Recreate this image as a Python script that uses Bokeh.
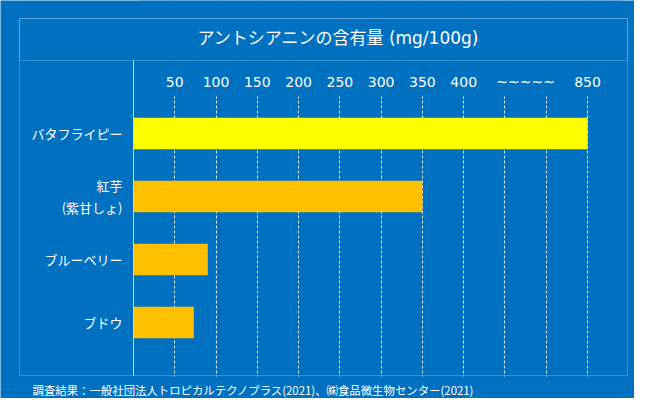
from bokeh.plotting import figure
from bokeh.models import (Range1d, LinearAxis, FixedTicker, Grid, Label,
                          BoxAnnotation, ColumnDataSource)
from bokeh.embed import file_html
from bokeh.resources import INLINE

# ---- data ----
categories = ["バタフライピー", "紅芋\n(紫甘しょ)", "ブルーベリー", "ブドウ"]
values = [850, 350, 90, 73]          # mg/100g
bar_colors = ["#FFFF00", "#FFC000", "#FFC000", "#FFC000"]
tick_values = [50, 100, 150, 200, 250, 300, 350, 400, 475, 550]
tick_labels = ["50", "100", "150", "200", "250", "300", "350", "400", "~~~~~", "850"]
grid_values = [50, 100, 150, 200, 250, 300, 350, 400, 450, 500, 550]
title_text = "アントシアニンの含有量 (mg/100g)"
footer_text = "調査結果：一般社団法人トロピカルテクノプラス(2021)、㈱食品微生物センター(2021)"

BREAK_FROM, BREAK_TO = 850, 550      # broken axis: 850 is drawn where 550 would be


def shown(v):
    return v - (BREAK_FROM - BREAK_TO) if v > 400 else v


BG = "#0070C0"
LINE = "#BDD7EE"
JP = "Noto Sans CJK JP"
MIX = "DejaVu Sans, Noto Sans CJK JP"
NUM = "DejaVu Sans"

n = len(categories)
ypos = [n - i for i in range(n)]     # top to bottom

W, H = 634, 398
PX_PER_X = 454 / 550.0
X0 = 133
PX_PER_Y = 63.0
Y0 = 385


def xd(px):
    return (px - X0) / PX_PER_X


def yd(py):
    return (Y0 - py) / PX_PER_Y


p = figure(width=W, height=H, output_backend="svg", toolbar_location=None,
           x_range=Range1d(xd(0), xd(W)), y_range=Range1d(yd(H), yd(0)),
           x_axis_location=None, y_axis_location=None,
           min_border=0, background_fill_color=BG, border_fill_color=BG)
p.grid.visible = False
p.outline_line_color = None

# grid (dashed verticals)
grid = Grid(dimension=0, ticker=FixedTicker(ticks=grid_values),
            grid_line_color="white", grid_line_alpha=0.85, grid_line_dash="3 2")
p.add_layout(grid)

# cover grid outside the bar area
p.add_layout(BoxAnnotation(left=xd(140), right=xd(620), bottom=yd(96), top=yd(0),
                           fill_color=BG, fill_alpha=1, line_color=None, level="glyph"))
p.add_layout(BoxAnnotation(left=xd(140), right=xd(620), bottom=yd(H), top=yd(376),
                           fill_color=BG, fill_alpha=1, line_color=None, level="glyph"))

# outer box and title separator
p.add_layout(BoxAnnotation(left=xd(19), right=xd(627), top=yd(18), bottom=yd(375),
                           fill_alpha=0, line_color=LINE, line_width=1))
p.add_layout(BoxAnnotation(left=xd(19), right=xd(627), top=yd(18), bottom=yd(60),
                           fill_alpha=0, line_color=LINE, line_width=1))

src = ColumnDataSource(dict(y=ypos, right=[shown(v) for v in values], color=bar_colors))
p.hbar(y="y", left=0, right="right", height=0.5, color="color", line_color=None, source=src)

# x axis (above, inside frame)
xax = LinearAxis(ticker=FixedTicker(ticks=tick_values), fixed_location=yd(96),
                 major_label_overrides={t: l for t, l in zip(tick_values, tick_labels)},
                 axis_line_color=None, major_tick_line_color=None, minor_tick_line_color=None,
                 major_label_text_color="white", major_label_text_font=NUM,
                 major_label_text_font_size="14px", major_label_standoff=1)
p.add_layout(xax, "above")

# y axis (left, at x=0)
yax = LinearAxis(ticker=FixedTicker(ticks=ypos), fixed_location=0,
                 major_label_overrides={y: c for y, c in zip(ypos, categories)},
                 axis_line_color=LINE, bounds=(yd(375), yd(60)),
                 major_tick_line_color=None, minor_tick_line_color=None,
                 major_label_text_color="white", major_label_text_font=JP,
                 major_label_text_font_size="13px", major_label_standoff=5)
p.add_layout(yax, "left")

p.add_layout(Label(x=xd(338), y=yd(37), text=title_text, text_font=MIX,
                   text_font_size="17px", text_color="white",
                   text_align="center", text_baseline="middle"))
p.add_layout(Label(x=xd(32), y=yd(389), text=footer_text, text_font=JP,
                   text_font_size="11.4px", text_color="white",
                   text_align="left", text_baseline="middle"))

html = file_html(p, INLINE)
html = html.replace("<body>", '<body style="background-color:%s;">' % BG, 1)
open("out.html", "w").write(html)
